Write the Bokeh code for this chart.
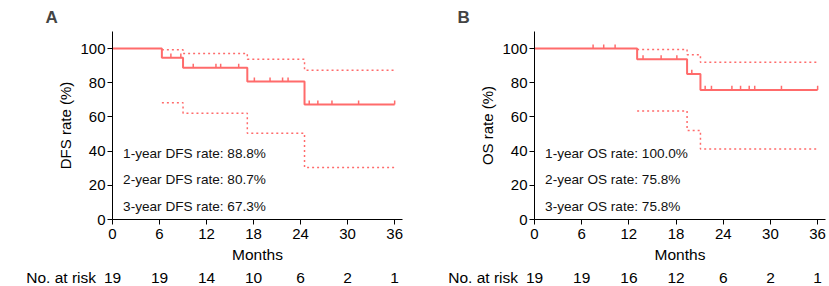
from bokeh.plotting import figure
from bokeh.models import Range1d, FixedTicker, Title
from bokeh.core.properties import value
from bokeh.layouts import row, column
from bokeh.embed import file_html
from bokeh.resources import INLINE
import numpy as np

# ---------------- data ----------------
x_ticks = [0, 6, 12, 18, 24, 30, 36]
y_ticks = [0, 20, 40, 60, 80, 100]

dfs_time = [0, 6.3, 9.0, 17.2, 24.5, 36]
dfs_surv = [100, 94.7, 88.8, 80.7, 67.3, 67.3]
dfs_ci_time = [6.3, 9.0, 17.2, 24.5, 36]
dfs_ci_upper = [99.3, 97.1, 93.7, 87.4, 87.4]
dfs_ci_lower = [68.3, 62.2, 50.4, 30.4, 30.4]
dfs_censor = [7.45, 8.72, 10.3, 13.2, 13.8, 16.1, 18.1, 20.1, 21.7, 22.4,
              25.1, 26.2, 28.0, 31.4, 36]
dfs_risk = ["19", "19", "14", "10", "6", "2", "1"]
dfs_rates = ["1-year DFS rate: 88.8%", "2-year DFS rate: 80.7%", "3-year DFS rate: 67.3%"]

os_time = [0, 13.05, 19.4, 21.1, 36]
os_surv = [100, 93.75, 85.2, 75.8, 75.8]
os_ci_time = [13.05, 19.4, 21.1, 36]
os_ci_upper = [99.5, 96.4, 92.0, 92.0]
os_ci_lower = [63.5, 52.1, 41.3, 41.3]
os_censor = [7.45, 8.8, 10.25, 13.8, 16.1, 18.1, 20.0, 21.7, 22.5, 25.1,
             26.2, 27.3, 28.0, 31.4, 36]
os_risk = ["19", "19", "16", "12", "6", "2", "1"]
os_rates = ["1-year OS rate: 100.0%", "2-year OS rate: 75.8%", "3-year OS rate: 75.8%"]

risk_label = "No. at risk"
x_label = "Months"

# ---------------- style / layout ----------------
FONT = "Liberation Sans"
RED = "#FF6B6B"
X_END = 37
MAIN_H = 268
RISK_H = 18


def panel(width, border_left, border_right, letter, letter_offset, ylabel,
          time, surv, ci_t, ci_up, ci_lo, censor, rates):
    p = figure(width=width, height=MAIN_H, output_backend="svg", toolbar_location=None,
               x_range=Range1d(0, X_END), y_range=Range1d(0, 110),
               min_border_left=border_left, min_border_right=border_right,
               min_border_top=27, min_border_bottom=49)
    p.outline_line_color = None
    p.grid.visible = False
    p.background_fill_color = "white"
    p.border_fill_color = "white"

    for ax in (p.xaxis[0], p.yaxis[0]):
        ax.axis_line_color = "black"
        ax.axis_line_width = 1
        ax.major_tick_line_color = "black"
        ax.major_tick_in = 0
        ax.major_tick_out = 5
        ax.minor_tick_line_color = None
        ax.major_label_text_font = FONT
        ax.major_label_text_font_size = "15px"
        ax.major_label_text_color = "black"
        ax.axis_label_text_font = FONT
        ax.axis_label_text_font_size = "15.5px"
        ax.axis_label_text_font_style = "normal"
        ax.axis_label_text_color = "black"
    p.yaxis[0].axis_label_text_font_size = "15px"
    p.xaxis[0].ticker = FixedTicker(ticks=x_ticks)
    p.yaxis[0].ticker = FixedTicker(ticks=y_ticks)
    p.xaxis[0].major_label_standoff = 4
    p.xaxis[0].axis_label = x_label
    p.xaxis[0].axis_label_standoff = 4
    p.yaxis[0].major_label_standoff = 2
    p.yaxis[0].axis_label = ylabel
    p.yaxis[0].axis_label_standoff = 3

    # confidence bands (dotted)
    p.step(ci_t, ci_up, mode="after", line_color=RED, line_width=1.5, line_dash="2 3")
    p.step(ci_t, ci_lo, mode="after", line_color=RED, line_width=1.5, line_dash="2 3")
    # survival curve
    p.step(time, surv, mode="after", line_color=RED, line_width=2)
    # censor marks
    t_arr = np.array(time)
    s_arr = np.array(surv)
    c = np.array(censor)
    idx = np.clip(np.searchsorted(t_arr, c, side="right") - 1, 0, len(s_arr) - 1)
    cy = s_arr[idx]
    p.segment(x0=c, y0=cy, x1=c, y1=cy + 2.4, line_color=RED, line_width=1.5)

    # rate annotations
    p.text(x=[1.35] * len(rates), y=[38.8, 23.2, 7.6], text=rates,
           text_font=value(FONT), text_font_size="13.6px", text_baseline="middle",
           text_align="left", text_color="#111111")

    # panel letter
    p.add_layout(Title(text=letter, align="left", offset=letter_offset, text_font=FONT,
                       text_font_size="17px", text_font_style="bold"), "above")
    return p


def risk_row(width, border_left, border_right, risk):
    frame_w = width - border_left - border_right
    x0 = -border_left * X_END / frame_w
    r = figure(width=width, height=RISK_H, output_backend="svg", toolbar_location=None,
               x_range=Range1d(x0, X_END), y_range=Range1d(-1, 1),
               x_axis_location=None, y_axis_location=None,
               min_border_left=0, min_border_right=border_right,
               min_border_top=0, min_border_bottom=0)
    r.outline_line_color = None
    r.grid.visible = False
    r.text(x=x_ticks, y=[0] * len(x_ticks), text=risk, text_font=value(FONT),
           text_font_size="15.5px", text_baseline="middle", text_align="center",
           text_color="black")
    r.text(x=[-2.1], y=[0], text=[risk_label], text_font=value(FONT),
           text_font_size="15.5px", text_baseline="middle", text_align="right",
           text_color="black")
    return r


pA = panel(428, 112, 26, "A", -67, "DFS rate (%)", dfs_time, dfs_surv, dfs_ci_time,
           dfs_ci_upper, dfs_ci_lower, dfs_censor, dfs_rates)
pB = panel(401, 106, 4, "B", -77, "OS rate (%)", os_time, os_surv, os_ci_time,
           os_ci_upper, os_ci_lower, os_censor, os_rates)
rA = risk_row(428, 112, 26, dfs_risk)
rB = risk_row(401, 106, 4, os_risk)

layout = column(row(pA, pB), row(rA, rB))
open("out.html", "w").write(file_html(layout, INLINE))
